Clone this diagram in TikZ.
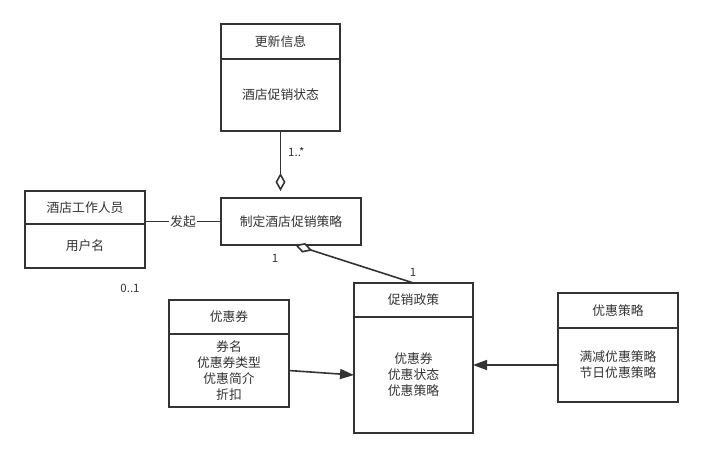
\documentclass[tikz,border=0pt]{standalone}
\usepackage{fontspec}
\setmainfont{Noto Sans CJK SC}
\usetikzlibrary{arrows.meta,positioning}
\definecolor{umlgray}{HTML}{333333}

\begin{document}
\begin{tikzpicture}[x=1pt, y=-1pt, font=\fontsize{12.8}{16}\selectfont,
    >={Triangle[length=14pt, width=10pt]},
    cls/.style={draw=umlgray, line width=1.6pt, fill=white, text=umlgray,
                minimum width=#1, inner sep=0pt, outer sep=0pt, align=center},
    lbl/.style={text=umlgray, font=\fontsize{11.5}{13}\selectfont, inner sep=1pt},
    wire/.style={draw=umlgray, line width=1.6pt},
    aggr/.style={wire, -{Diamond[open, length=18pt, width=10pt, fill=white]}}]
  \useasboundingbox (0,0) rectangle (704,459);
  %% Update info
  \node[cls=119pt, minimum height=35pt] (upd) at (280.5,41.5) {更新信息};
  \node[cls=119pt, minimum height=72pt, below=0pt of upd] (updb) {酒店促销状态};
  %% Hotel staff
  \node[cls=120pt, minimum height=33pt] (staff) at (85,207.5) {酒店工作人员};
  \node[cls=120pt, minimum height=44pt, below=0pt of staff] (staffb) {用户名};
  %% Make promotion plan
  \node[cls=140pt, minimum height=47pt] (plan) at (291,221.5) {制定酒店促销策略};
  %% Promotion policy
  \node[cls=119pt, minimum height=34pt] (policy) at (413.5,300) {促销政策};
  \node[cls=119pt, minimum height=116pt, below=0pt of policy] (policyb)
    {优惠券\\优惠状态\\优惠策略};
  %% Coupon
  \node[cls=120pt, minimum height=34pt] (coupon) at (229,317) {优惠券};
  \node[cls=120pt, minimum height=73pt, below=0pt of coupon] (couponb)
    {券名\\优惠券类型\\优惠简介\\折扣};
  %% Discount strategy
  \node[cls=120pt, minimum height=35pt] (strat) at (618,310.5) {优惠策略};
  \node[cls=120pt, minimum height=74pt, below=0pt of strat] (stratb)
    {满减优惠策略\\节日优惠策略};
  %% Connectors
  \draw[aggr, shorten >=7pt] (updb.south) -- (updb.south |- plan.north);
  \draw[aggr] (policy.north) -- (plan.-80);
  \draw[wire] (plan.west) -- (plan.west -| staffb.east)
    node[midway, fill=white, text=umlgray, inner sep=1pt] (init) {发起};
  \draw[wire, ->] (couponb.east) -- (policyb.west);
  \draw[wire, ->] (stratb.west) -- (stratb.west -| policyb.east);
  %% Multiplicities
  \node[lbl, anchor=west] (m1) at (287,152) {1..*};
  \node[lbl] (m2) at (275,258) {1};
  \node[lbl] (m3) at (413,272) {1};
  \node[lbl] (m4) at (130,288) {0..1};
\end{tikzpicture}
\end{document}
